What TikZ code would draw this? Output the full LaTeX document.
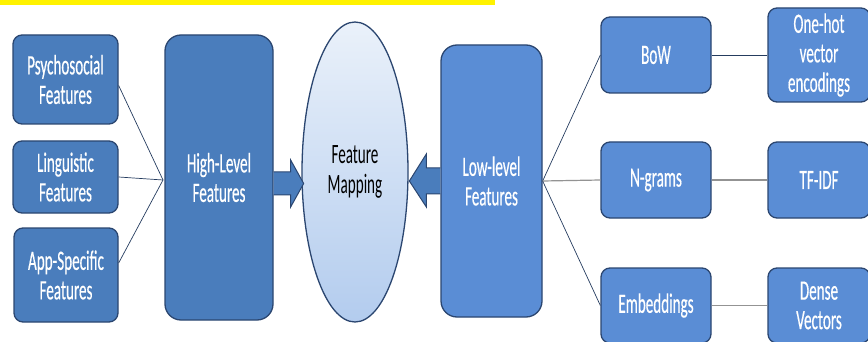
\documentclass[tikz,border=0pt]{standalone}
\usepackage{fontspec}
\newfontfamily\cf[FakeStretch=0.54,FakeBold=0.4]{Carlito}
\newfontfamily\cfr[FakeStretch=0.54]{Carlito}
\usetikzlibrary{calc,shapes.geometric}
\definecolor{boxblue}{HTML}{4A7DBC}
\definecolor{lowblue}{HTML}{5A8DD5}
\definecolor{navy}{HTML}{2B4670}
\definecolor{ellTop}{HTML}{EAF1FA}
\definecolor{ellBot}{HTML}{B3CCEE}
\tikzset{
  fbox/.style={draw=navy, line width=1.3pt, fill=boxblue, rounded corners=9pt,
    align=center, font=\cf\fontsize{28}{29.5}\selectfont, text=white, inner sep=0pt},
  bigbox/.style={fbox, rounded corners=16pt},
  fan/.style={draw=navy!85!black, line width=0.7pt},
  link/.style={draw=gray!85, line width=1.2pt},
  barrow/.style={draw=navy, line width=1pt, fill=boxblue},
}
\begin{document}
\begin{tikzpicture}[x=1pt,y=-1pt]
\useasboundingbox (0,0) rectangle (868,342);
\clip (0,0) rectangle (868,342);
\fill[yellow] (0,0) rectangle (495,5);

% left column
\node[fbox, minimum width=105pt, minimum height=89pt] (psy) at (65.5,79.5) {Psychosocial\\Features};
\node[fbox, minimum width=105pt, minimum height=72pt] (ling) at (65.5,177) {Linguistic\\Features};
\node[fbox, minimum width=104pt, minimum height=94pt] (app) at (66,275) {App-Specific\\Features};

\node[bigbox, minimum width=108pt, minimum height=285pt] (high) at (219,177.5) {High-Level\\Features};

\node[draw=navy, line width=1.3pt, ellipse, top color=ellTop, bottom color=ellBot,
      minimum width=106pt, minimum height=300pt, inner sep=0pt, align=center,
      font=\cfr\fontsize{28}{29.5}\selectfont, text=black] (map) at (355,172) {Feature\\Mapping};

\node[bigbox, fill=lowblue, minimum width=101pt, minimum height=272pt] (low) at (491.5,181) {Low-level\\Features};

% right columns
\node[fbox, fill=lowblue, minimum width=110pt, minimum height=76pt] (bow) at (656,55) {BoW};
\node[fbox, fill=lowblue, minimum width=110pt, minimum height=76pt] (ngr) at (656,180) {N-grams};
\node[fbox, fill=lowblue, minimum width=110pt, minimum height=75pt] (emb) at (656,305.5) {Embeddings};
\node[fbox, fill=lowblue, minimum width=102pt, minimum height=94pt] (hot) at (819,55) {One-hot\\vector\\encodings};
\node[fbox, fill=lowblue, minimum width=102pt, minimum height=76pt] (tfidf) at (819,180) {TF-IDF};
\node[fbox, fill=lowblue, minimum width=102pt, minimum height=75pt] (dense) at (819,305.5) {Dense\\Vectors};

% fan-in lines on the left
\coordinate (hub) at (163,180);
\draw[fan] ([yshift=-6pt]psy.east) -- (hub);
\draw[fan] (ling.east) -- (hub);
\draw[fan] ([yshift=12pt]app.east) -- (hub);

% fan-out lines on the right
\draw[fan] (low.east) -- (bow.west);
\draw[link] (low.east) -- (ngr.west);
\draw[fan] (low.east) -- (emb.west);
\draw[fan] (bow.east) -- (hot.west);
\draw[link] (ngr.east) -- (tfidf.west);
\draw[link] (emb.east) -- (dense.west);

% block arrows
\begin{scope}[shift={(high.east)}]
  \draw[barrow] (0,-5.5) -- (17,-5.5) -- (17,-17.5) -- (30,6) -- (17,29.5) -- (17,17.5) -- (0,17.5);
\end{scope}
\begin{scope}[shift={(low.west)}]
  \draw[barrow] (0,-13) -- (-14,-13) -- (-14,-27) -- (-31,0) -- (-14,26) -- (-14,13) -- (0,13);
\end{scope}
\end{tikzpicture}
\end{document}
